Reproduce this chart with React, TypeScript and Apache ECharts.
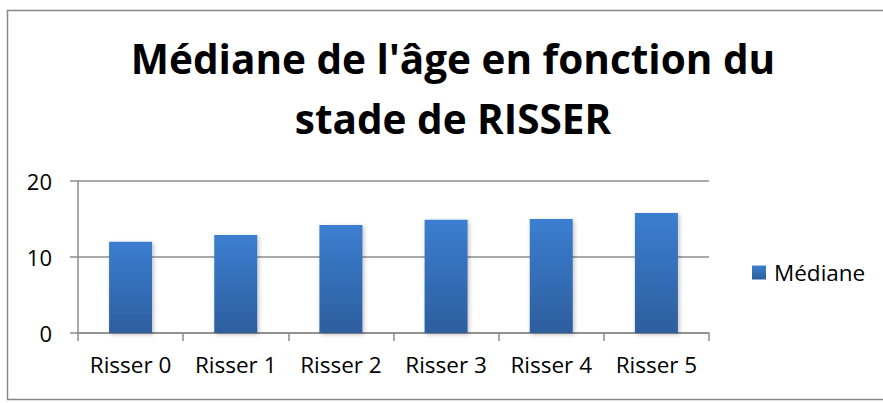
import React, { useEffect, useRef } from "react";
import * as echarts from "echarts";

const categories = ["Risser 0", "Risser 1", "Risser 2", "Risser 3", "Risser 4", "Risser 5"];
const medianValues = [12, 12.9, 14.2, 14.9, 15, 15.8];
const seriesName = "Médiane";
const titleText = "Médiane de l'âge en fonction du\nstade de RISSER";
const yTicks = { min: 0, max: 20, interval: 10 };

export default function App() {
  const ref = useRef<HTMLDivElement>(null);
  useEffect(() => {
    if (!ref.current) return;
    const chart = echarts.init(ref.current, null, { renderer: "svg" });
    const font = "'Open Sans', sans-serif";
    chart.setOption({
      animation: false,
      backgroundColor: "#ffffff",
      title: {
        text: titleText,
        left: 453,
        top: 28,
        padding: 0,
        textAlign: "center",
        textStyle: {
          fontFamily: font,
          fontWeight: "bold",
          fontSize: 40.5,
          lineHeight: 60,
          color: "#000000",
        },
      },
      graphic: [
        {
          type: "rect",
          shape: { x: 7.5, y: 10.5, width: 880, height: 389 },
          style: { fill: "none", stroke: "#878787", lineWidth: 1.5 },
          silent: true,
        },
      ],
      legend: {
        left: 752,
        top: 261,
        padding: 0,
        itemWidth: 14,
        itemHeight: 14,
        itemGap: 8,
        icon: "rect",
        textStyle: { fontFamily: font, fontSize: 22.5, color: "#000000", padding: [0, 0, 0, 3] },
        data: [seriesName],
      },
      grid: { left: 78, right: 174, top: 181, bottom: 70, containLabel: false },
      xAxis: {
        type: "category",
        data: categories,
        boundaryGap: true,
        axisLine: { show: true, lineStyle: { color: "#8c8c8c", width: 1.5 } },
        axisTick: { show: true, length: 8, alignWithLabel: false, lineStyle: { color: "#8c8c8c", width: 1.5 } },
        axisLabel: { fontFamily: font, fontSize: 22.5, color: "#000000", margin: 20, interval: 0 },
        splitLine: { show: false },
      },
      yAxis: {
        type: "value",
        min: yTicks.min,
        max: yTicks.max,
        interval: yTicks.interval,
        axisLine: { show: true, lineStyle: { color: "#8c8c8c", width: 1.5 } },
        axisTick: { show: true, length: 8, inside: false, lineStyle: { color: "#8c8c8c", width: 1.5 } },
        axisLabel: { fontFamily: font, fontSize: 22, color: "#000000", margin: 26 },
        splitLine: { show: true, lineStyle: { color: "#8c8c8c", width: 1.5 } },
      },
      series: [
        {
          name: seriesName,
          type: "bar",
          data: medianValues,
          barWidth: 43,
          itemStyle: {
            color: new echarts.graphic.LinearGradient(0, 0, 0, 1, [
              { offset: 0, color: "#3b7ed0" },
              { offset: 1, color: "#2d5e9e" },
            ]),
            shadowBlur: 4,
            shadowColor: "rgba(0,0,0,0.25)",
            shadowOffsetX: 1.5,
            shadowOffsetY: 1.5,
          },
        },
      ],
    });
    return () => chart.dispose();
  }, []);
  return (
    <div
      ref={ref}
      style={{ position: "absolute", left: 0, top: 0, width: 883, height: 403 }}
    />
  );
}
